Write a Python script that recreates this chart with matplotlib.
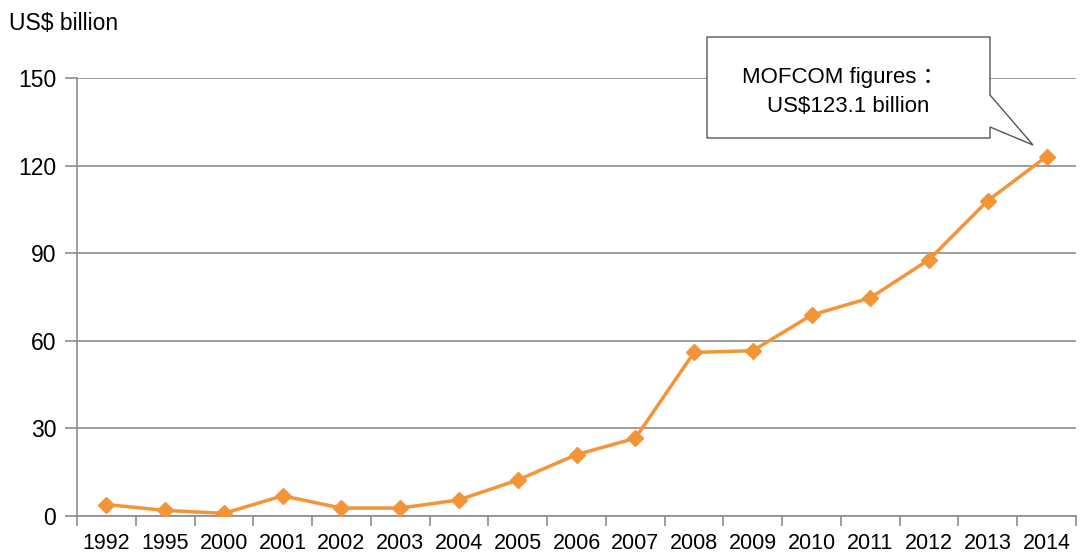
import matplotlib
matplotlib.use('Agg')
import matplotlib.pyplot as plt
from matplotlib.patches import Polygon

# data
years = ['1992', '1995', '2000', '2001', '2002', '2003', '2004', '2005', '2006',
         '2007', '2008', '2009', '2010', '2011', '2012', '2013', '2014']
values = [3.9, 1.9, 0.9, 6.9, 2.7, 2.7, 5.5, 12.3, 21.0,
          26.6, 56.0, 56.6, 68.8, 74.7, 87.8, 108.0, 123.1]
yticks = [0, 30, 60, 90, 120, 150]

plt.rcParams['font.family'] = ['Liberation Sans', 'Noto Sans CJK SC', 'DejaVu Sans']

fig = plt.figure(figsize=(10.8, 5.53), dpi=100)
ax = fig.add_axes([0.0713, 0.067, 0.9250, 0.792])

x = list(range(len(years)))
ax.plot(x, values, color='#F39437', lw=2.5, marker='D', markersize=8, zorder=3)

ax.set_xlim(-0.5, len(years) - 0.5)
ax.set_ylim(0, 150)
ax.set_yticks(yticks)
ax.yaxis.grid(True, color='#8c8c8c', lw=1.2)
ax.set_axisbelow(True)

# category labels centred, tick marks between categories
ax.set_xticks(x)
ax.set_xticklabels(years, fontsize=15.5)
ax.tick_params(axis='x', length=0, pad=12)
ax.set_xticks([i - 0.5 for i in range(len(years) + 1)], minor=True)
ax.tick_params(axis='x', which='minor', length=7, color='#8c8c8c', width=1.2)
ax.tick_params(axis='y', labelsize=16.5, length=9, color='#8c8c8c', width=1.2, pad=6)

for s in ['top', 'right']:
    ax.spines[s].set_visible(False)
for s in ['left', 'bottom']:
    ax.spines[s].set_color('#8c8c8c')
    ax.spines[s].set_linewidth(1.2)

fig.text(0.008, 0.958, 'US$ billion', fontsize=16.5, ha='left', va='center')

# callout box with pointer
W, H = 1080.0, 553.0
pts = [(707, 37), (990, 37), (990, 95), (1033, 145), (990, 127), (990, 138), (707, 138)]
pts = [(px / W, 1 - py / H) for px, py in pts]
fig.patches.append(Polygon(pts, closed=True, transform=fig.transFigure,
                           facecolor='white', edgecolor='#555555', lw=1.0, zorder=5))
fig.text(843 / W, 1 - 78 / H, 'MOFCOM figures ：', fontsize=16, ha='center', va='center', zorder=6)
fig.text(848 / W, 1 - 107 / H, 'US$123.1 billion', fontsize=16, ha='center', va='center', zorder=6)

fig.savefig('out.png', dpi=100)
